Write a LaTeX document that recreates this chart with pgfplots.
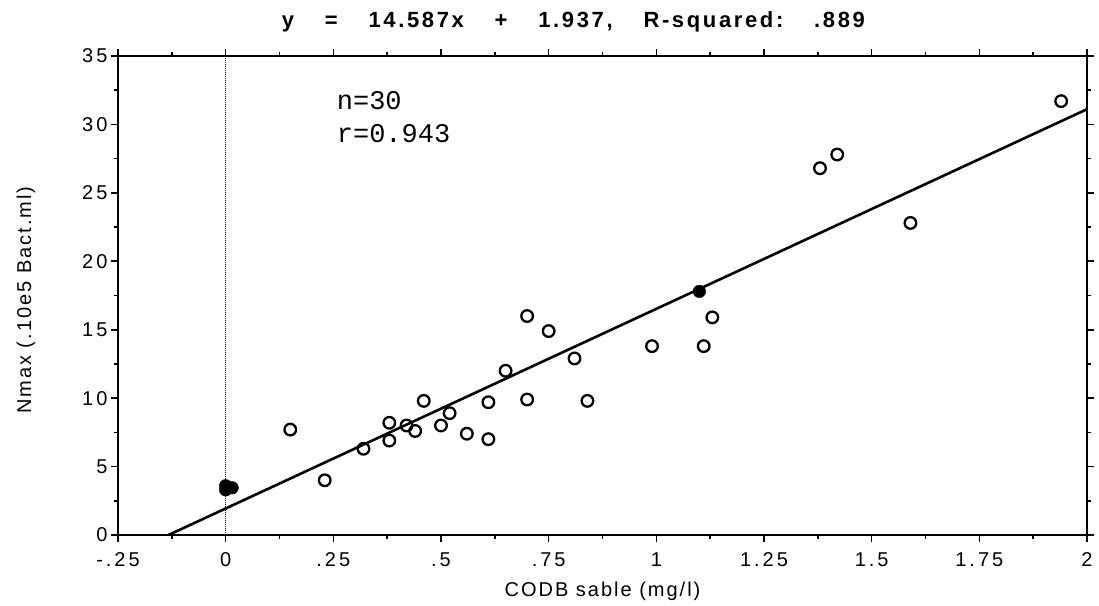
\documentclass[border=0pt]{standalone}
\usepackage{fontspec}
\setmainfont{Liberation Sans}
\newfontfamily\monofont{Liberation Mono}
\usepackage{pgfplots}
\pgfplotsset{compat=1.18}
\begin{document}
\begin{tikzpicture}
\begin{axis}[
  scale only axis, width=969pt, height=479pt,
  xmin=-0.25, xmax=2, ymin=0, ymax=35,
  axis line style={line width=2pt},
  xtick={-0.25,0,0.25,0.5,0.75,1,1.25,1.5,1.75,2},
  xticklabels={-.25,0,.25,.5,.75,1,1.25,1.5,1.75,2},
  minor x tick num=1,
  ytick={0,5,10,15,20,25,30,35},
  yticklabels={0,5,10,15,20,25,30,35},
  minor y tick num=1,
  tick align=outside,
  major tick length=7pt, minor tick length=4pt,
  every tick/.style={black, line width=1.6pt},
  ticklabel style={font=\fontsize{20}{24}\selectfont\addfontfeatures{LetterSpace=15}},
  xticklabel style={yshift=-7pt},
  xlabel={CODB sable (mg/l)},
  ylabel={Nmax (.10e5 Bact.ml)},
  label style={font=\fontsize{20}{24}\selectfont\addfontfeatures{LetterSpace=10}},
  xlabel style={at={(rel axis cs:0.5,0)}, anchor=center, yshift=-56pt},
  ylabel style={at={(rel axis cs:0,0.49)}, anchor=center, rotate=0, yshift=92pt},
  clip=false,
]
\coordinate (sw) at (rel axis cs:0,0);
\coordinate (ne) at (rel axis cs:1,1);
\addplot[black, line width=1pt, densely dotted] coordinates {(0,0) (0,35)};
\addplot[black, line width=2.6pt] coordinates {(-0.1328,0) (2,31.111)};
\addplot[only marks, mark=o, mark size=5.8pt, mark options={line width=2.3pt, fill=white}] coordinates {
(0.15,7.7) (0.23,4.0) (0.32,6.3) (0.38,8.2) (0.38,6.9) (0.42,8.0) (0.44,7.6)
(0.46,9.8) (0.50,8.0) (0.52,8.9) (0.56,7.4) (0.61,7.0) (0.61,9.7) (0.65,12.0)
(0.70,16.0) (0.70,9.9) (0.75,14.9) (0.81,12.9) (0.84,9.8) (0.99,13.8) (1.11,13.8)
(1.13,15.9) (1.38,26.8) (1.42,27.8) (1.59,22.8) (1.94,31.7)
};
\addplot[only marks, mark=*, mark size=6.3pt, black] coordinates {
(0,3.3) (0,3.6) (0.015,3.45) (1.10,17.8)
};
\node[anchor=west, align=left, font=\monofont\fontsize{27}{33}\selectfont] at (axis cs:0.25,30.57) {n=30\\r=0.943};
\node[font=\bfseries\fontsize{22}{26}\selectfont\addfontfeatures{LetterSpace=12}] at (rel axis cs:0.47,1) [yshift=34pt]
  {y\hspace{1.4em}=\hspace{1.4em}14.587x\hspace{1.4em}+\hspace{1.4em}1.937,\hspace{1.4em}R-squared:\hspace{1.4em}.889};
\end{axis}
\pgfresetboundingbox
\path ([shift={(-118pt,-71pt)}]sw) rectangle ([shift={(12pt,56pt)}]ne);
\end{tikzpicture}
\end{document}
